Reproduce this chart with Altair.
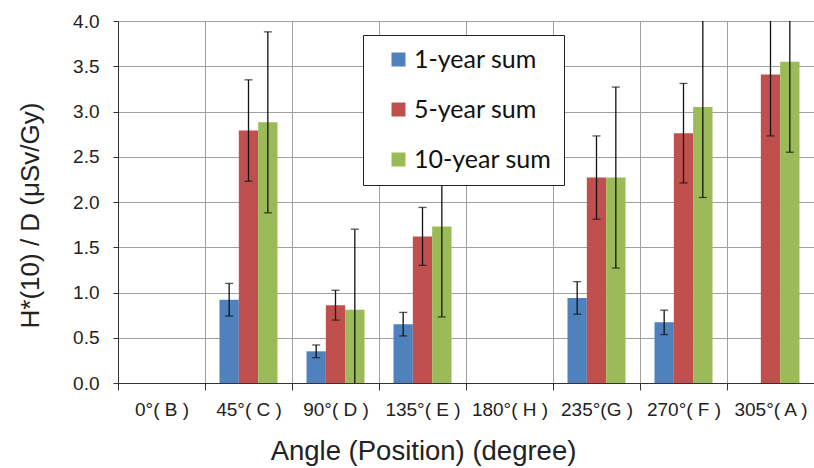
import altair as alt
import pandas as pd

categories = ["0°( B )", "45°( C )", "90°( D )", "135°( E )", "180°( H )",
              "235°(G )", "270°( F )", "305°( A )"]
series = ["1-year sum", "5-year sum", "10-year sum"]
colors = ["#4F81BD", "#C0504D", "#9BBB59"]

one_year = [None, 0.92, 0.35, 0.65, None, 0.94, 0.67, None]
one_year_err = [None, 0.18, 0.07, 0.13, None, 0.18, 0.135, None]
five_year = [None, 2.79, 0.86, 1.62, None, 2.27, 2.76, 3.41]
five_year_err = [None, 0.56, 0.165, 0.32, None, 0.46, 0.55, 0.68]
ten_year = [None, 2.88, 0.81, 1.73, None, 2.27, 3.05, 3.55]
ten_year_err = [None, 1.0, 0.89, 1.0, None, 1.0, 1.0, 1.0]

y_ticks = [0.0, 0.5, 1.0, 1.5, 2.0, 2.5, 3.0, 3.5, 4.0]

rows = []
for s, vals, errs in zip(series, [one_year, five_year, ten_year],
                         [one_year_err, five_year_err, ten_year_err]):
    for c, v, e in zip(categories, vals, errs):
        if v is None:
            continue
        rows.append({"angle": c, "series": s, "value": v, "lo": v - e, "hi": v + e})
df = pd.DataFrame(rows)

FONT = "Liberation Sans"

x_enc = alt.X(
    "angle:N", sort=categories,
    scale=alt.Scale(domain=categories, paddingInner=0, paddingOuter=0),
    axis=alt.Axis(
        title="Angle (Position) (degree)", labelAngle=0, tickBand="extent",
        grid=True, gridColor="#A0A0A0", gridWidth=1,
        domainColor="#333333", tickColor="#333333", tickSize=7,
        labelFont=FONT, labelFontSize=19, labelColor="#222222", labelPadding=10,
        titleFont=FONT, titleFontSize=27.5, titleFontWeight="normal", titleColor="#222222",
        titleX=305, titleAlign="center", titleY=76, titleBaseline="alphabetic",
    ),
)
xo_enc = alt.XOffset("series:N", sort=series,
                     scale=alt.Scale(domain=series, paddingInner=0, paddingOuter=0.75))
y_axis = alt.Axis(
    title="H*(10) / D (μSv/Gy)", values=y_ticks, format=".1f",
    grid=True, gridColor="#A0A0A0", gridWidth=1,
    domainColor="#333333", tickColor="#333333", tickSize=5,
    labelFont=FONT, labelFontSize=19, labelColor="#222222", labelPadding=14,
    titleFont=FONT, titleFontSize=26, titleFontWeight="normal", titleColor="#222222",
    titleX=-88, titleY=194, titleAlign="center", titleBaseline="middle", titleAngle=-90,
)
y_scale = alt.Scale(domain=[0, 4], nice=False)

base = alt.Chart(df)

bars = base.mark_bar(clip=True).encode(
    x=x_enc, xOffset=xo_enc,
    y=alt.Y("value:Q", scale=y_scale, axis=y_axis),
    color=alt.Color("series:N", sort=series,
                    scale=alt.Scale(domain=series, range=colors),
                    legend=alt.Legend(
                        title=None, orient="none", legendX=245, legendY=14,
                        strokeColor="#222222", fillColor="white", padding=12,
                        symbolType="square", symbolSize=196, symbolStrokeWidth=0,
                        symbolOffset=11, labelOffset=3, rowPadding=24,
                        labelFont="Lato", labelFontSize=25, labelColor="#111111",
                        labelExpr="datum.label + '\u00a0\u00a0'",
                    )),
)

rules = base.mark_rule(clip=True, color="#111111", strokeWidth=1.3).encode(
    x=alt.X("angle:N", sort=categories), xOffset=alt.XOffset("series:N", sort=series),
    y=alt.Y("lo:Q", scale=y_scale), y2="hi:Q",
)
cap_lo = base.mark_tick(clip=True, color="#111111", thickness=1.3, size=8).encode(
    x=alt.X("angle:N", sort=categories), xOffset=alt.XOffset("series:N", sort=series),
    y=alt.Y("lo:Q", scale=y_scale),
)
cap_hi = base.mark_tick(clip=True, color="#111111", thickness=1.3, size=8).encode(
    x=alt.X("angle:N", sort=categories), xOffset=alt.XOffset("series:N", sort=series),
    y=alt.Y("hi:Q", scale=y_scale),
)

chart = alt.layer(bars, rules, cap_lo, cap_hi).properties(
    width=696, height=362,
    autosize=alt.AutoSizeParams(type="none"),
    padding={"left": 118, "top": 21, "right": 0, "bottom": 85},
).configure_view(stroke="#666666", strokeWidth=1).configure(background="white")

chart.save("out.html", embed_options={"renderer": "svg", "actions": False})
